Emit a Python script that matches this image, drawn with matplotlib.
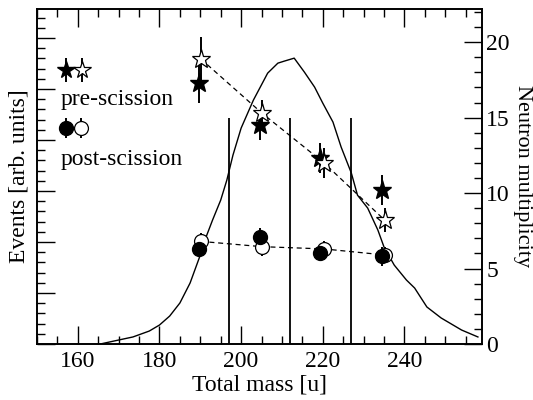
import matplotlib
matplotlib.use("Agg")
import matplotlib.pyplot as plt
from matplotlib.ticker import MultipleLocator, NullFormatter

plt.rcParams['font.family'] = ['Liberation Serif', 'DejaVu Serif']
plt.rcParams['font.size'] = 17

# Mass distribution (events, arb. units)
curve_mass = [165.5, 170.0, 173.5, 177.5, 180.0, 182.5, 185.0, 187.5, 190.0,
              191.5, 193.0, 195.0, 196.5, 198.0, 200.0, 203.0, 206.5, 209.0,
              210.5, 213.0, 215.5, 218.0, 220.0, 222.5, 224.5, 227.0, 228.5,
              231.0, 233.5, 235.0, 237.5, 240.5, 242.5, 245.5, 249.0, 254.0,
              258.0]
curve_events = [0, 39, 69, 127, 186, 274, 402, 598, 872,
                1058, 1215, 1411, 1607, 1852, 2117, 2391, 2656, 2754,
                2773, 2803, 2666, 2519, 2362, 2176, 1931, 1676, 1460,
                1333, 1117, 951, 774, 627, 549, 363, 255, 137,
                69]

# Mass cuts
cut_mass = [197, 212, 227]
cut_top = 15

# Neutron multiplicities
mass_filled = [189.6, 204.6, 219.4, 234.6]
mass_open = [190.1, 205.1, 220.3, 235.2]
pre_filled = [17.3, 14.5, 12.3, 10.2]
pre_filled_err = [1.3, 1.0, 1.0, 1.0]
pre_open = [18.9, 15.3, 12.0, 8.2]
pre_open_err = [1.45, 0.9, 1.0, 0.8]
post_filled = [6.3, 7.1, 6.0, 5.8]
post_filled_err = [0.5, 0.6, 0.5, 0.6]
post_open = [6.8, 6.45, 6.3, 5.9]
post_open_err = [0.55, 0.6, 0.5, 0.5]

fig = plt.figure(figsize=(5.33, 4.0), dpi=100)
fig.subplots_adjust(left=0.0694, right=0.9043, bottom=0.14, top=0.9775)
ax = fig.add_subplot(111)
ax2 = ax.twinx()

# Events curve on the left axis
ax.plot(curve_mass, curve_events, color='k', lw=1.0)
ax.set_xlim(150, 259)
ax.set_ylim(0, 3285)
ax.xaxis.set_major_locator(MultipleLocator(20))
ax.xaxis.set_minor_locator(MultipleLocator(5))
ax.yaxis.set_major_locator(MultipleLocator(500))
ax.yaxis.set_minor_locator(MultipleLocator(100))
ax.yaxis.set_major_formatter(NullFormatter())
ax.set_xlabel('Total mass [u]', labelpad=2)
ax.set_ylabel('Events [arb. units]', labelpad=2)

# Multiplicities on the right axis
ax2.set_ylim(0, 22.2)
ax2.yaxis.set_major_locator(MultipleLocator(5))
ax2.yaxis.set_minor_locator(MultipleLocator(1))
ax2.set_ylabel('Neutron multiplicity', rotation=270, fontsize=16,
               va='center')
ax2.yaxis.set_label_coords(1.09, 0.5)

ax2.vlines(cut_mass, 0, cut_top, colors='k', lw=1.3)

ax2.plot(mass_open, pre_open, color='k', ls=(0, (4, 3)), lw=0.9)
ax2.plot(mass_open, post_open, color='k', ls=(0, (4, 3)), lw=0.9)

ax2.errorbar(mass_filled, pre_filled, yerr=pre_filled_err, fmt='*', ms=14,
             color='k', mfc='k', mec='k', elinewidth=1.4, capsize=0)
ax2.errorbar(mass_open, pre_open, yerr=pre_open_err, fmt='*', ms=14,
             color='k', mfc='white', mec='k', mew=0.9, elinewidth=1.4, capsize=0)
ax2.errorbar(mass_open, post_open, yerr=post_open_err, fmt='o', ms=10,
             color='k', mfc='white', mec='k', mew=0.9, elinewidth=1.4, capsize=0)
ax2.errorbar(mass_filled, post_filled, yerr=post_filled_err, fmt='o', ms=10,
             color='k', mfc='k', mec='k', elinewidth=1.4, capsize=0)

# Hand-drawn key in the upper left
t = ax.transAxes
ax.errorbar([0.0645], [0.818], yerr=0.036, fmt='*', ms=13, color='k',
            elinewidth=1.4, capsize=0, transform=t)
ax.errorbar([0.102], [0.818], yerr=0.036, fmt='*', ms=13, color='k',
            mfc='white', mew=0.9, elinewidth=1.4, capsize=0, transform=t)
ax.text(0.052, 0.73, 'pre-scission', transform=t, va='center', ha='left')
ax.errorbar([0.0645], [0.644], yerr=0.03, fmt='o', ms=10, color='k',
            elinewidth=1.4, capsize=0, transform=t)
ax.errorbar([0.100], [0.644], yerr=0.03, fmt='o', ms=10, color='k',
            mfc='white', mew=0.9, elinewidth=1.4, capsize=0, transform=t)
ax.text(0.052, 0.55, 'post-scission', transform=t, va='center', ha='left')

# Ticks pointing inwards on every side
ax.tick_params(which='both', direction='in', top=True, right=False, width=1.0)
ax.tick_params(which='major', length=13)
ax.tick_params(which='minor', length=6)
ax2.tick_params(which='both', direction='in', width=1.0)
ax2.tick_params(which='major', length=13, pad=3)
ax2.tick_params(which='minor', length=6)
ax.tick_params(axis='x', pad=5)
for a in (ax, ax2):
    for s in a.spines.values():
        s.set_linewidth(1.2)

fig.savefig('out.png', dpi=100)
